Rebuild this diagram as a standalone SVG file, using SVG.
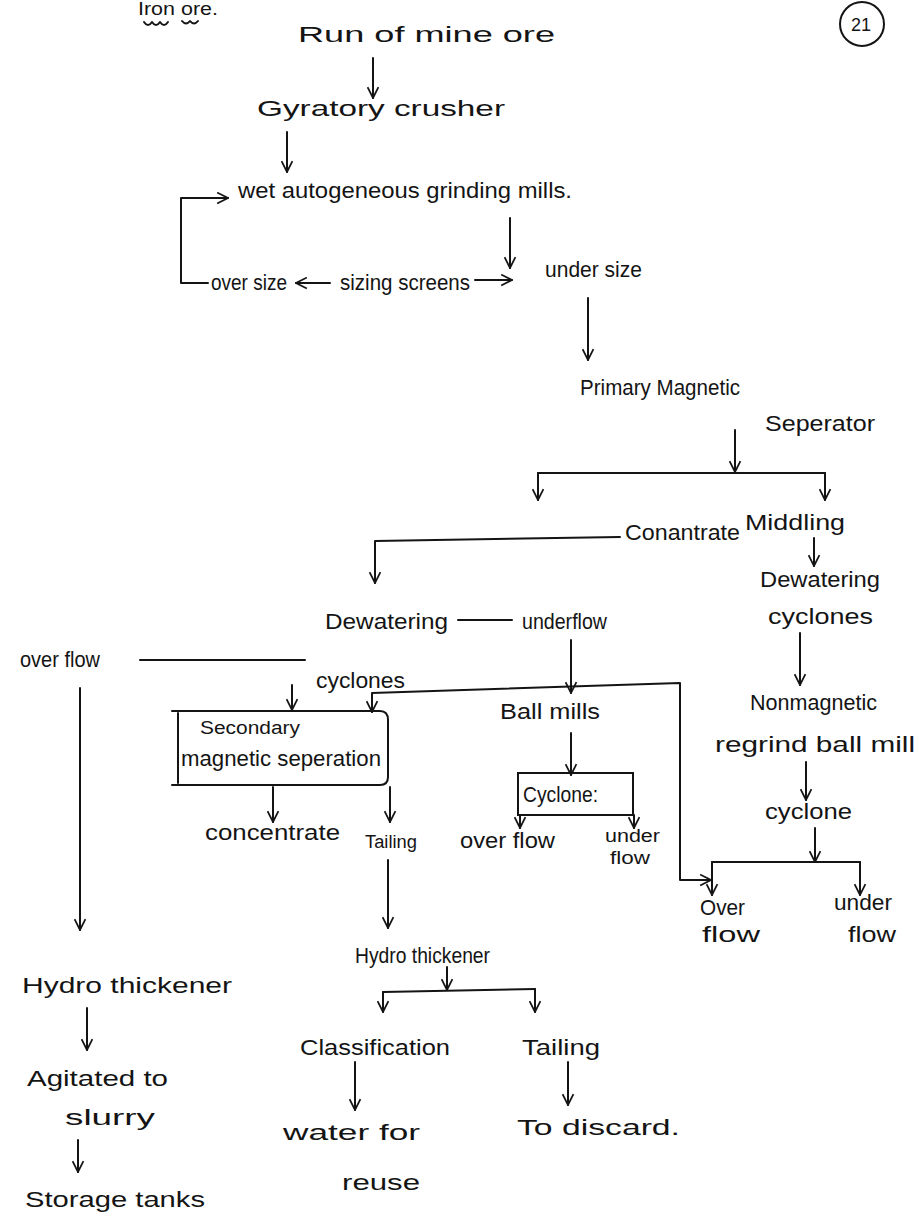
<svg xmlns="http://www.w3.org/2000/svg" width="922" height="1223" viewBox="0 0 922 1223">
<defs>
<style>
.t{font-family:"Liberation Sans","DejaVu Sans",sans-serif;font-size:22px;fill:#141414}
.s{font-size:18px}
.c{fill:none;stroke:#141414;stroke-width:2;stroke-linecap:round;stroke-linejoin:round}
.a{marker-end:url(#arr)}
</style>
<marker id="arr" viewBox="0 0 12 12" refX="11" refY="6" markerWidth="13" markerHeight="13" markerUnits="userSpaceOnUse" orient="auto-start-reverse">
<path d="M1,1 L11,6 L1,11" fill="none" stroke="#141414" stroke-width="1.6"/>
</marker>
</defs>
<rect width="922" height="1223" fill="#ffffff"/>

<g id="header">
<text class="t s" x="138" y="15" textLength="80" lengthAdjust="spacingAndGlyphs">Iron ore.</text>
<path class="c" d="M144 22 q4 6 8 0 q4 6 8 0 q4 6 8 0 M182 21 q4 5 8 0 q4 5 8 0" stroke-width="1.5"/>
<circle cx="862" cy="24" r="22" fill="none" stroke="#141414" stroke-width="2"/>
<text class="t s" x="851" y="31">21</text>
</g>

<g id="connectors">
<path class="c a" d="M373 58 L373 98"/>
<path class="c a" d="M287 132 L287 172"/>
<path class="c a" d="M208 283 L181 283 L181 198 L228 198"/>
<path class="c a" d="M510 218 L510 268"/>
<path class="c a" d="M330 283 L296 283"/>
<path class="c a" d="M475 280 L512 280"/>
<path class="c a" d="M588 298 L588 360"/>
<path class="c a" d="M735 430 L735 472"/>
<path class="c" d="M538 473 L825 473"/>
<path class="c a" d="M538 473 L538 500"/>
<path class="c a" d="M825 473 L825 500"/>
<path class="c a" d="M620 537 L375 541 L375 583"/>
<path class="c a" d="M814 538 L814 566"/>
<path class="c" d="M458 620 L512 620"/>
<path class="c" d="M140 660 L305 660"/>
<path class="c a" d="M80 688 L80 930"/>
<path class="c a" d="M571 640 L571 693"/>
<path class="c a" d="M292 685 L292 710"/>
<path class="c a" d="M372 712 L372 693 L680 683 L680 880 L711 880" style="marker-start:url(#arr)"/>
<path class="c a" d="M273 787 L273 822"/>
<path class="c a" d="M390 787 L390 822"/>
<path class="c a" d="M388 860 L388 928"/>
<path class="c a" d="M571 733 L571 775"/>
<path class="c a" d="M520 815 L520 828"/>
<path class="c a" d="M634 815 L634 828"/>
<path class="c a" d="M800 633 L800 685"/>
<path class="c a" d="M806 762 L806 800"/>
<path class="c a" d="M815 828 L815 862"/>
<path class="c" d="M712 862 L860 862"/>
<path class="c a" d="M712 862 L712 895"/>
<path class="c a" d="M860 862 L860 895"/>
<path class="c a" d="M87 1008 L87 1050"/>
<path class="c a" d="M78 1140 L78 1172"/>
<path class="c a" d="M447 967 L447 990"/>
<path class="c" d="M383 992 L535 989"/>
<path class="c a" d="M383 992 L383 1012"/>
<path class="c a" d="M535 989 L535 1012"/>
<path class="c a" d="M355 1062 L355 1110"/>
<path class="c a" d="M568 1062 L568 1105"/>
</g>

<g id="run"><text class="t" x="298" y="42" textLength="257" lengthAdjust="spacingAndGlyphs">Run of mine ore</text></g>
<g id="gyratory"><text class="t" x="257" y="116" textLength="248" lengthAdjust="spacingAndGlyphs">Gyratory crusher</text></g>
<g id="wet"><text class="t" x="238" y="198" textLength="334" lengthAdjust="spacingAndGlyphs">wet autogeneous grinding mills.</text></g>
<g id="oversize"><text class="t" x="211" y="290" textLength="76" lengthAdjust="spacingAndGlyphs">over size</text></g>
<g id="sizing"><text class="t" x="340" y="290" textLength="130" lengthAdjust="spacingAndGlyphs">sizing screens</text></g>
<g id="undersize"><text class="t" x="545" y="277" textLength="97" lengthAdjust="spacingAndGlyphs">under size</text></g>
<g id="primary">
<text class="t" x="580" y="395" textLength="160" lengthAdjust="spacingAndGlyphs">Primary Magnetic</text>
<text class="t" x="765" y="431" textLength="110" lengthAdjust="spacingAndGlyphs">Seperator</text>
</g>
<g id="conantrate"><text class="t" x="625" y="540" textLength="115" lengthAdjust="spacingAndGlyphs">Conantrate</text></g>
<g id="middling"><text class="t" x="745" y="530" textLength="100" lengthAdjust="spacingAndGlyphs">Middling</text></g>
<g id="dewatering-right">
<text class="t" x="760" y="587" textLength="120" lengthAdjust="spacingAndGlyphs">Dewatering</text>
<text class="t" x="768" y="624" textLength="105" lengthAdjust="spacingAndGlyphs">cyclones</text>
</g>
<g id="dewatering-center">
<text class="t" x="325" y="629" textLength="123" lengthAdjust="spacingAndGlyphs">Dewatering</text>
<text class="t" x="316" y="688" textLength="89" lengthAdjust="spacingAndGlyphs">cyclones</text>
</g>
<g id="underflow"><text class="t" x="522" y="629" textLength="85" lengthAdjust="spacingAndGlyphs">underflow</text></g>
<g id="overflow-left"><text class="t" x="20" y="667" textLength="80" lengthAdjust="spacingAndGlyphs">over flow</text></g>
<g id="secondary">
<path class="c" d="M172 711 L380 711 Q388 711 388 720 L388 777 Q388 785 380 785 L172 785 M178 713 L178 783"/>
<text class="t s" x="200" y="734" textLength="100" lengthAdjust="spacingAndGlyphs">Secondary</text>
<text class="t" x="181" y="766" textLength="200" lengthAdjust="spacingAndGlyphs">magnetic seperation</text>
</g>
<g id="ballmills"><text class="t" x="500" y="719" textLength="100" lengthAdjust="spacingAndGlyphs">Ball mills</text></g>
<g id="cyclone1">
<rect x="518" y="773" width="115" height="42" fill="none" stroke="#141414" stroke-width="2"/>
<text class="t" x="523" y="802" textLength="75" lengthAdjust="spacingAndGlyphs">Cyclone:</text>
</g>
<g id="overflow2"><text class="t" x="460" y="848" textLength="95" lengthAdjust="spacingAndGlyphs">over flow</text></g>
<g id="underflow2">
<text class="t s" x="605" y="842" textLength="55" lengthAdjust="spacingAndGlyphs">under</text>
<text class="t s" x="610" y="864" textLength="40" lengthAdjust="spacingAndGlyphs">flow</text>
</g>
<g id="nonmagnetic"><text class="t" x="750" y="710" textLength="127" lengthAdjust="spacingAndGlyphs">Nonmagnetic</text></g>
<g id="regrind"><text class="t" x="715" y="752" textLength="200" lengthAdjust="spacingAndGlyphs">regrind ball mill</text></g>
<g id="cyclone2"><text class="t" x="765" y="819" textLength="87" lengthAdjust="spacingAndGlyphs">cyclone</text></g>
<g id="overflow3">
<text class="t" x="700" y="915" textLength="45" lengthAdjust="spacingAndGlyphs">Over</text>
<text class="t" x="702" y="942" textLength="58" lengthAdjust="spacingAndGlyphs">flow</text>
</g>
<g id="underflow3">
<text class="t" x="834" y="910" textLength="58" lengthAdjust="spacingAndGlyphs">under</text>
<text class="t" x="848" y="942" textLength="48" lengthAdjust="spacingAndGlyphs">flow</text>
</g>
<g id="concentrate"><text class="t" x="205" y="840" textLength="135" lengthAdjust="spacingAndGlyphs">concentrate</text></g>
<g id="tailing1"><text class="t s" x="365" y="848" textLength="52" lengthAdjust="spacingAndGlyphs">Tailing</text></g>
<g id="hydro-center"><text class="t" x="355" y="963" textLength="135" lengthAdjust="spacingAndGlyphs">Hydro thickener</text></g>
<g id="classification"><text class="t" x="300" y="1055" textLength="150" lengthAdjust="spacingAndGlyphs">Classification</text></g>
<g id="tailing2"><text class="t" x="522" y="1055" textLength="78" lengthAdjust="spacingAndGlyphs">Tailing</text></g>
<g id="water"><text class="t" x="283" y="1140" textLength="137" lengthAdjust="spacingAndGlyphs">water for</text><text class="t" x="342" y="1190" textLength="78" lengthAdjust="spacingAndGlyphs">reuse</text></g>
<g id="discard"><text class="t" x="517" y="1135" textLength="163" lengthAdjust="spacingAndGlyphs">To discard.</text></g>
<g id="hydro-left"><text class="t" x="22" y="993" textLength="210" lengthAdjust="spacingAndGlyphs">Hydro thickener</text></g>
<g id="agitated"><text class="t" x="27" y="1086" textLength="141" lengthAdjust="spacingAndGlyphs">Agitated to</text><text class="t" x="65" y="1125" textLength="90" lengthAdjust="spacingAndGlyphs">slurry</text></g>
<g id="storage"><text class="t" x="25" y="1207" textLength="180" lengthAdjust="spacingAndGlyphs">Storage tanks</text></g>
</svg>
